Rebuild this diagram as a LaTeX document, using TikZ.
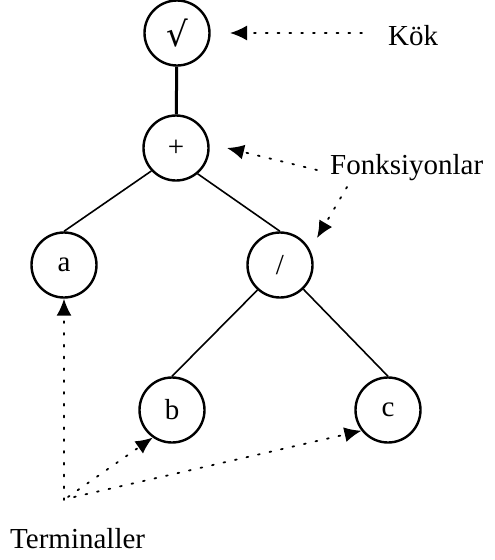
\documentclass[tikz,border=0pt]{standalone}
\usepackage{fontspec}
\setmainfont{Liberation Serif}
\newfontfamily\symfont{DejaVu Serif}
\usetikzlibrary{arrows.meta}
\tikzset{
  tnode/.style={circle,draw,line width=2.4pt,minimum size=65pt,inner sep=0pt,font=\fontsize{29}{29}\selectfont},
  lbl/.style={font=\fontsize{29}{29}\selectfont,inner sep=0pt},
  edge/.style={line width=1.6pt},
  rootedge/.style={line width=3pt},
  ptr/.style={dash pattern=on 1.8pt off 10pt,line cap=round,line width=1.8pt,
    -{Latex[length=17pt,width=15pt]}}
}
\begin{document}
\begin{tikzpicture}[x=1pt,y=-1pt]
\useasboundingbox (0,0) rectangle (495,560);
\node[tnode] (root) at (177,33) {\symfont\fontsize{34}{34}\selectfont √};
\node[tnode] (plus) at (176,148) {+};
\node[tnode] (a) at (64,265) {a};
\node[tnode] (div) at (280,265) {/};
\node[tnode] (b) at (172,410) {b};
\node[tnode] (c) at (388,410) {c};
\draw[rootedge] (root) -- (plus);
\draw[edge] (plus.223) -- (a.north);
\draw[edge] (plus.310) -- (div.north);
\draw[edge] (div.228) -- (b.north);
\draw[edge] (div.314) -- (c.north);
\node[lbl,anchor=base west] (kok) at (388,45) {Kök};
\node[lbl,anchor=base west] (fonk) at (330,174) {Fonksiyonlar};
\node[lbl,anchor=base west] (term) at (10,548) {Terminaller};
\coordinate (k0) at (362,33);
\coordinate (k1) at (230,33);
\coordinate (f0) at (317,170);
\coordinate (f1) at (227,148);
\coordinate (g0) at (347,187);
\coordinate (g1) at (317,238);
\coordinate (t0) at (64,500);
\coordinate (t1) at (68,497);
\coordinate (t2) at (74,497);
\draw[ptr] (k0) -- (k1);
\draw[ptr] (f0) -- (f1);
\draw[ptr] (g0) -- (g1);
\draw[ptr] (t0) -- (a.south);
\draw[ptr] (t1) -- (b.235);
\draw[ptr] (t2) -- (c.218);
\end{tikzpicture}
\end{document}
